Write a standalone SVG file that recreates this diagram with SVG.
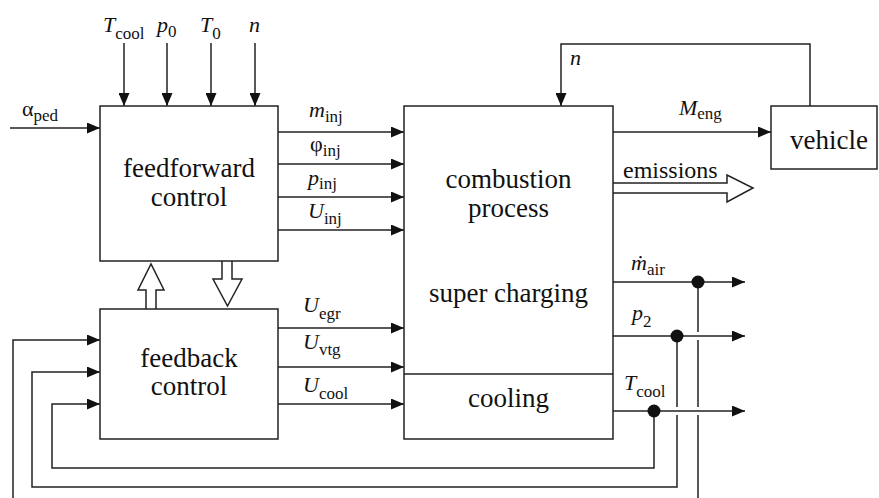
<svg xmlns="http://www.w3.org/2000/svg" width="879" height="498" viewBox="0 0 879 498" font-family="Liberation Serif, Times New Roman, DejaVu Serif, serif">
<style>
.box{fill:#fff;stroke:#222;stroke-width:1.5}
.ln{fill:none;stroke:#222;stroke-width:1.5}
.hol{fill:#fff;stroke:#222;stroke-width:1.5;stroke-linejoin:miter}
text{fill:#111}
.big{font-size:27px;text-anchor:middle}
.em{font-size:24px}
.i{font-size:22px;font-style:italic}
.g{font-size:22px}
.s{font-size:17px;font-style:normal}
</style>
<defs>
<marker id="ah" markerUnits="userSpaceOnUse" markerWidth="13" markerHeight="11" refX="13" refY="5.5" orient="auto">
<path d="M0,0 L13,5.5 L0,11 z" fill="#111"/>
</marker>
</defs>

<g id="connectors">
<path class="ln" d="M124,43 V106" marker-end="url(#ah)"/>
<path class="ln" d="M167,43 V106" marker-end="url(#ah)"/>
<path class="ln" d="M211,43 V106" marker-end="url(#ah)"/>
<path class="ln" d="M255,43 V106" marker-end="url(#ah)"/>
<path class="ln" d="M10,128 H100" marker-end="url(#ah)"/>
<path class="ln" d="M278,132 H404" marker-end="url(#ah)"/>
<path class="ln" d="M278,164 H404" marker-end="url(#ah)"/>
<path class="ln" d="M278,197 H404" marker-end="url(#ah)"/>
<path class="ln" d="M278,230 H404" marker-end="url(#ah)"/>
<path class="ln" d="M278,328 H404" marker-end="url(#ah)"/>
<path class="ln" d="M278,367 H404" marker-end="url(#ah)"/>
<path class="ln" d="M278,404 H404" marker-end="url(#ah)"/>
<path class="hol" d="M146,309 V290 H138 L151,264 L164,290 H156 V309"/>
<path class="hol" d="M222,261 V279 H213 L227.5,306 L242,279 H232 V261"/>
<path class="hol" d="M613,183 H727 V175 L753,188 L727,202 V193 H613"/>
<path class="ln" d="M613,132 H771" marker-end="url(#ah)"/>
<path class="ln" d="M810,106 V44 H561 V106" marker-end="url(#ah)"/>
<path class="ln" d="M613,282 H745" marker-end="url(#ah)"/>
<path class="ln" d="M613,336 H745" marker-end="url(#ah)"/>
<path class="ln" d="M613,411 H745" marker-end="url(#ah)"/>
<path class="ln" d="M698,282 V332 M698,340 V407 M698,415 V498"/>
<path class="ln" d="M677,336 V407 M677,415 V487 H32 V372 H100" marker-end="url(#ah)"/>
<path class="ln" d="M654,411 V468 H52 V404 H100" marker-end="url(#ah)"/>
<path class="ln" d="M13,498 V340 H100" marker-end="url(#ah)"/>
<circle cx="698" cy="282" r="6.5" fill="#111"/>
<circle cx="677" cy="336" r="6.5" fill="#111"/>
<circle cx="654" cy="411" r="6.5" fill="#111"/>
</g>

<g id="feedforward">
<rect class="box" x="100" y="106" width="178" height="155"/>
<text class="big" x="189" y="177">feedforward</text>
<text class="big" x="189" y="206">control</text>
</g>

<g id="feedback">
<rect class="box" x="100" y="309" width="178" height="130"/>
<text class="big" x="189" y="367">feedback</text>
<text class="big" x="189" y="395">control</text>
</g>

<g id="combustion">
<rect class="box" x="404" y="106" width="209" height="333"/>
<line class="ln" x1="404" y1="374" x2="613" y2="374"/>
<text class="big" x="508.5" y="188">combustion</text>
<text class="big" x="508.5" y="217">process</text>
<text class="big" x="508.5" y="302">super charging</text>
<text class="big" x="508.5" y="407">cooling</text>
</g>

<g id="vehicle">
<rect class="box" x="771" y="106" width="106" height="63"/>
<text class="big" x="829" y="149">vehicle</text>
</g>

<g id="labels">
<text x="103" y="32"><tspan class="i">T</tspan><tspan class="s" dy="7">cool</tspan></text>
<text x="157" y="32"><tspan class="i">p</tspan><tspan class="s" dy="5">0</tspan></text>
<text x="200" y="32"><tspan class="i">T</tspan><tspan class="s" dy="7">0</tspan></text>
<text x="249" y="32"><tspan class="i">n</tspan></text>
<text x="22" y="116"><tspan class="g">α</tspan><tspan class="s" dy="5">ped</tspan></text>
<text x="309" y="117"><tspan class="i">m</tspan><tspan class="s" dy="5">inj</tspan></text>
<text x="310" y="151"><tspan class="g">φ</tspan><tspan class="s" dy="5">inj</tspan></text>
<text x="308" y="185"><tspan class="i">p</tspan><tspan class="s" dy="4">inj</tspan></text>
<text x="308" y="218"><tspan class="i">U</tspan><tspan class="s" dy="6">inj</tspan></text>
<text x="303" y="312"><tspan class="i">U</tspan><tspan class="s" dy="7">egr</tspan></text>
<text x="303" y="349"><tspan class="i">U</tspan><tspan class="s" dy="6">vtg</tspan></text>
<text x="303" y="392"><tspan class="i">U</tspan><tspan class="s" dy="7">cool</tspan></text>
<text x="679" y="115"><tspan class="i">M</tspan><tspan class="s" dy="4">eng</tspan></text>
<text class="em" x="623" y="178">emissions</text>
<text x="570" y="65"><tspan class="i">n</tspan></text>
<text x="631" y="270"><tspan class="i">ṁ</tspan><tspan class="s" dy="5">air</tspan></text>
<text x="632" y="320"><tspan class="i">p</tspan><tspan class="s" dy="7">2</tspan></text>
<text x="624" y="390"><tspan class="i">T</tspan><tspan class="s" dy="7">cool</tspan></text>
</g>
</svg>
